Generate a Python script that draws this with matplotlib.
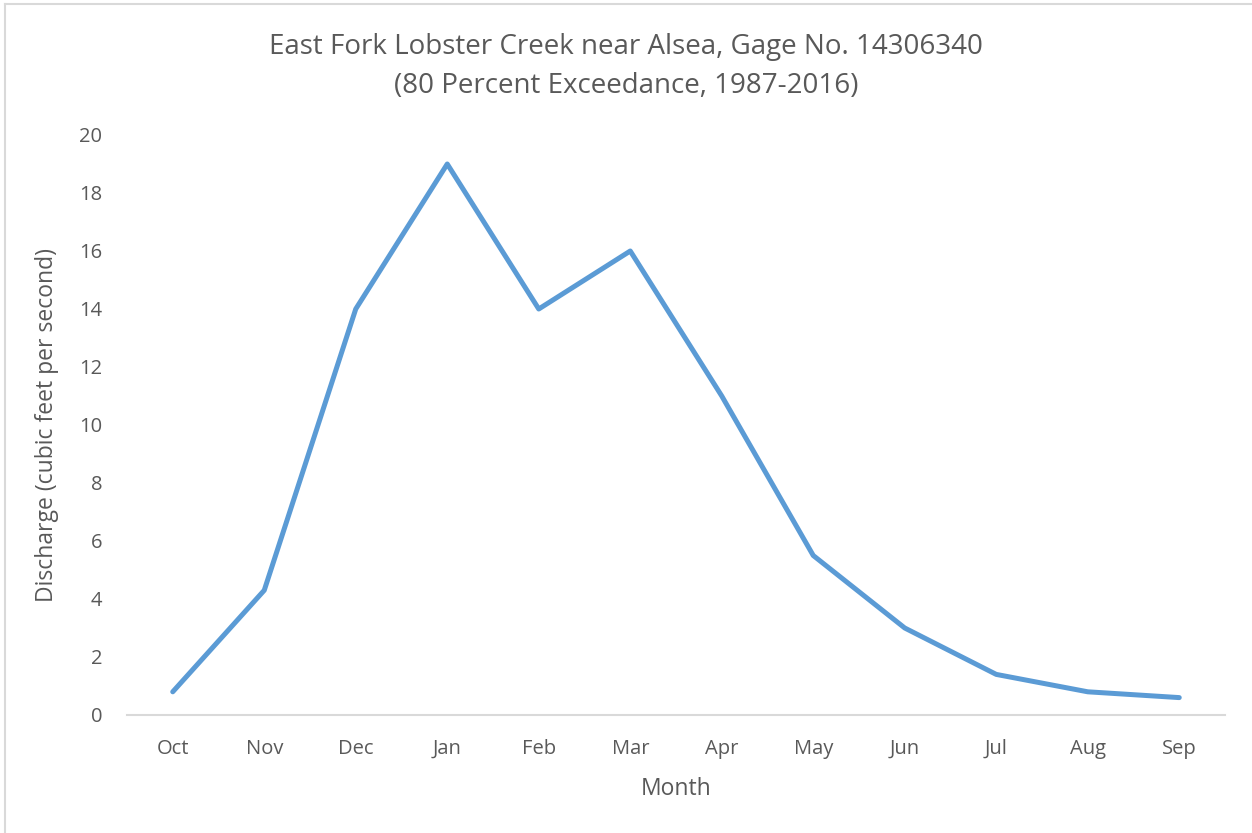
import matplotlib
matplotlib.use("Agg")
import matplotlib.pyplot as plt
from matplotlib.lines import Line2D

plt.rcParams['font.family'] = ['Open Sans', 'DejaVu Sans']

months = ['Oct', 'Nov', 'Dec', 'Jan', 'Feb', 'Mar', 'Apr', 'May', 'Jun', 'Jul', 'Aug', 'Sep']
discharge = [0.8, 4.3, 14, 19, 14, 16, 11, 5.5, 3.0, 1.4, 0.8, 0.6]
y_ticks = [0, 2, 4, 6, 8, 10, 12, 14, 16, 18, 20]

text_color = '#595959'

fig = plt.figure(figsize=(12.52, 8.33), dpi=100)
ax = fig.add_axes([127 / 1252, 1 - 715 / 833, (1225 - 127) / 1252, (715 - 135) / 833])

x = list(range(len(months)))
ax.plot(x, discharge, color='#5B9BD5', linewidth=3.6, solid_capstyle='round',
        solid_joinstyle='round')

ax.set_xlim(-0.5, len(months) - 0.5)
ax.set_ylim(0, 20)
ax.set_yticks(y_ticks)
ax.set_xticks(x)
ax.set_xticklabels(months)
ax.tick_params(axis='both', length=0, labelsize=14.5, colors=text_color)
ax.tick_params(axis='x', pad=17)
ax.tick_params(axis='y', pad=18)

for s in ['top', 'right', 'left']:
    ax.spines[s].set_visible(False)
ax.spines['bottom'].set_color('#D9D9D9')
ax.spines['bottom'].set_linewidth(1.5)

ax.set_xlabel('Month', fontsize=16.5, color=text_color, labelpad=13)
ax.set_ylabel('Discharge (cubic feet per second)', fontsize=16.5, color=text_color, labelpad=14)

fig.text(0.5, 1 - 47 / 833, 'East Fork Lobster Creek near Alsea, Gage No. 14306340',
         ha='center', va='center', fontsize=20, color=text_color)
fig.text(0.5, 1 - 86 / 833, '(80 Percent Exceedance, 1987-2016)',
         ha='center', va='center', fontsize=20, color=text_color)

# chart area border
fig.add_artist(Line2D([5 / 1252, 5 / 1252], [0, 1 - 4 / 833], color='#D9D9D9', lw=1.5,
                      transform=fig.transFigure))
fig.add_artist(Line2D([5 / 1252, 1], [1 - 4 / 833, 1 - 4 / 833], color='#D9D9D9', lw=1.5,
                      transform=fig.transFigure))

fig.savefig('out.png', dpi=100)
